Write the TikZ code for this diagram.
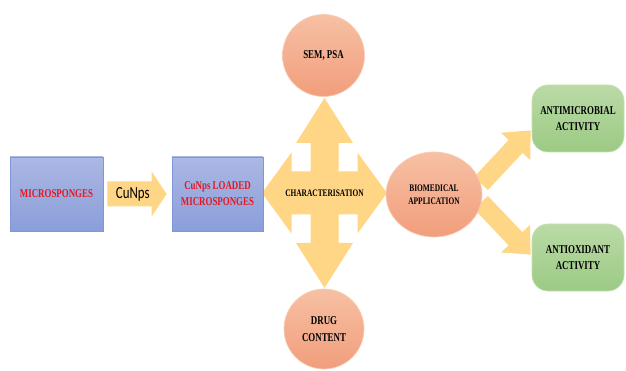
\documentclass[tikz,border=0pt]{standalone}
\usepackage{fontspec}
\setmainfont{Liberation Serif}
\newfontfamily\tnr[FakeStretch=0.74]{Liberation Serif}
\newfontfamily\calfont[FakeStretch=0.76]{Carlito}
\usetikzlibrary{calc,shapes.geometric}
\pgfdeclarelayer{background}
\pgfsetlayers{background,main}
\definecolor{boxtop}{RGB}{172,184,228}
\definecolor{boxbot}{RGB}{138,158,218}
\definecolor{boxline}{RGB}{128,150,214}
\definecolor{redtext}{RGB}{232,22,30}
\definecolor{ortop}{RGB}{247,192,164}
\definecolor{orbot}{RGB}{241,158,124}
\definecolor{orline}{RGB}{249,204,182}
\definecolor{grtop}{RGB}{186,218,166}
\definecolor{grbot}{RGB}{156,202,132}
\definecolor{grline}{RGB}{196,224,180}
\definecolor{arrowcol}{RGB}{255,214,134}
\tikzset{
  bluebox/.style={rectangle, draw=boxline, line width=0.7pt, top color=boxtop, bottom color=boxbot,
    minimum height=74pt, inner sep=0pt, align=center, text=redtext,
    font=\tnr\bfseries\fontsize{12}{16}\selectfont},
  orangeshape/.style={draw=orline, line width=0.7pt, top color=ortop, bottom color=orbot,
    inner sep=0pt, align=center, text=black},
  greenbox/.style={rectangle, rounded corners=16pt, draw=grline, line width=0.7pt,
    top color=grtop, bottom color=grbot, minimum width=92pt, minimum height=67pt,
    inner sep=0pt, align=center, font=\tnr\bfseries\fontsize{12}{16}\selectfont},
  arrowfill/.style={fill=arrowcol}
}
\newcommand\blockarrow[5]{%
  \coordinate (#1#2q) at ($(#2)!#5!(#1)$);
  \fill[arrowfill] ($(#1)!#3!90:(#2)$) -- ($(#1#2q)!#3!-90:(#1)$) -- ($(#1#2q)!#4!-90:(#1)$)
    -- (#2) -- ($(#1#2q)!#4!90:(#1)$) -- ($(#1#2q)!#3!90:(#1)$) -- ($(#1)!#3!-90:(#2)$) -- cycle;}
\begin{document}
\begin{tikzpicture}[x=1pt,y=-1pt]
\useasboundingbox (0,0) rectangle (626,371);
% boxes
\node[bluebox, minimum width=93pt] (micro) at (56.5,194) {MICROSPONGES};
\node[bluebox, minimum width=91pt] (loaded) at (217.5,194) {CuNps LOADED\\MICROSPONGES};
% circles
\node[orangeshape, circle, minimum size=82pt, font=\tnr\bfseries\fontsize{12}{16}\selectfont] (sem) at (323.5,55.5) {SEM, PSA};
\node[orangeshape, circle, minimum size=80pt, font=\tnr\bfseries\fontsize{12}{17}\selectfont] (drug) at (324,329) {DRUG\\CONTENT};
\node[orangeshape, ellipse, minimum width=96pt, minimum height=85pt, font=\tnr\bfseries\fontsize{10}{13}\selectfont] (bio) at (434,194.5) {BIOMEDICAL\\APPLICATION};
% green boxes
\node[greenbox] (anti1) at (578,118.5) {ANTIMICROBIAL\\ACTIVITY};
\node[greenbox] (anti2) at (578,257.5) {ANTIOXIDANT\\ACTIVITY};
% arrow coordinates
\coordinate (a1) at ([xshift=4pt]micro.east);
\coordinate (a2) at ([xshift=-5pt]loaded.west);
\coordinate (cc) at (324.5,193);
\coordinate (u1) at ($(bio)+(47,-11)$);
\coordinate (u2) at ($(anti1.south west)+(-1,-22)$);
\coordinate (l1) at ($(bio)+(47,8)$);
\coordinate (l2) at ($(anti2.north west)+(-1,31)$);
\begin{pgfonlayer}{background}
  \blockarrow{a1}{a2}{12.5pt}{22.5pt}{15pt}
  \blockarrow{u1}{u2}{9.5pt}{20pt}{22pt}
  \blockarrow{l1}{l2}{9.5pt}{20pt}{22pt}
  \begin{scope}[shift={(cc)}]
    \fill[arrowfill] (0,-95) -- (28.5,-50) -- (14,-50) -- (14,-21.5) -- (33,-21.5) -- (33,-40.5)
      -- (62.5,0) -- (33,40.5) -- (33,21.5) -- (14,21.5) -- (14,50) -- (28.5,50) -- (0,95)
      -- (-28.5,50) -- (-14,50) -- (-14,21.5) -- (-33,21.5) -- (-33,40.5) -- (-62.5,0)
      -- (-33,-40.5) -- (-33,-21.5) -- (-14,-21.5) -- (-14,-50) -- (-28.5,-50) -- cycle;
  \end{scope}
\end{pgfonlayer}
\node[font=\calfont\fontsize{17}{20}\selectfont, inner sep=0pt] (cunps) at ($(a1)!0.43!(a2)$) {CuNps};
\node[font=\tnr\bfseries\fontsize{10}{12}\selectfont, inner sep=0pt] (char) at (cc) {CHARACTERISATION};
\end{tikzpicture}
\end{document}
